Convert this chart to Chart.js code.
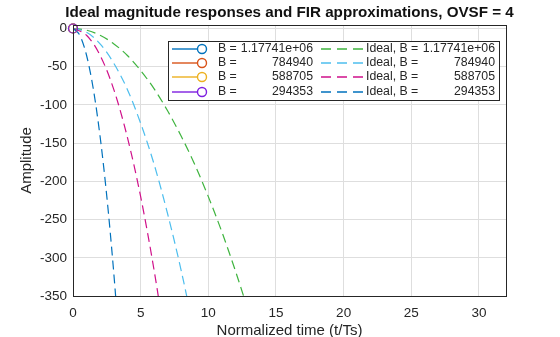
<!DOCTYPE html>
<html>
<head>
<meta charset="utf-8">
<script src="https://cdn.jsdelivr.net/npm/chart.js@4.4.1/dist/chart.umd.min.js"></script>
<style>
  html, body { margin: 0; padding: 0; background: #fff; }
  #wrap { width: 560px; height: 337px; }
</style>
</head>
<body>
<div id="wrap"><canvas id="chart" width="560" height="337"></canvas></div>
<script>
// values
var bandwidths = ["1.17741e+06", "784940", "588705", "294353"];
var firColors = ["#0072bd", "#d95319", "#edb120", "#7e1fe0"];
var idealColors = ["#3fb43f", "#4dbeee", "#d0108a", "#0072bd"];

// FIR approximations only show at the origin
var firTime = [0];
var firAmp = [0];

// ideal responses, amplitude vs normalized time
var idealTime1 = [0, 1, 2, 3, 4, 5, 6, 7, 8, 9, 10, 11, 12, 13];
var idealAmp1 = [0, -2.2, -8.8, -19.8, -35, -55, -79, -108, -141, -178, -220, -266, -317, -372];
var idealTime2 = [0, 1, 2, 3, 4, 5, 6, 7, 8, 9];
var idealAmp2 = [0, -5, -20, -45, -79, -124, -178, -243, -317, -401];
var idealTime3 = [0, 1, 2, 3, 4, 5, 6, 7];
var idealAmp3 = [0, -8.8, -35, -79, -141, -220, -317, -431];
var idealTime4 = [0, 0.5, 1, 1.5, 2, 2.5, 3, 3.5];
var idealAmp4 = [0, -8.8, -35, -79, -141, -220, -317, -431];

var xTicks = [0, 5, 10, 15, 20, 25, 30];
var yTicks = [-350, -300, -250, -200, -150, -100, -50, 0];

var idealTimes = [idealTime1, idealTime2, idealTime3, idealTime4];
var idealAmps = [idealAmp1, idealAmp2, idealAmp3, idealAmp4];

const axisColor = "#262626";
const gridColor = "#dedede";
const fontFam = "'Liberation Sans', Arial, sans-serif";

function toPoints(xs, ys) {
    return xs.map((x, i) => ({ x: x, y: ys[i] }));
}

var datasets = [];
for (let i = 0; i < 4; i++) {
    datasets.push({
        label: "B = " + bandwidths[i],
        data: toPoints(firTime, firAmp),
        borderColor: firColors[i],
        backgroundColor: "rgba(0,0,0,0)",
        borderWidth: 1,
        pointStyle: "circle",
        pointRadius: 4.5,
        pointBorderWidth: 1.2,
        pointBackgroundColor: "rgba(0,0,0,0)",
        clip: false,
        order: 4 - i,
    });
}
for (let i = 0; i < 4; i++) {
    datasets.push({
        label: "Ideal, B = " + bandwidths[i],
        data: toPoints(idealTimes[i], idealAmps[i]),
        borderColor: idealColors[i],
        borderWidth: 1.2,
        borderDash: [9, 5],
        pointRadius: 0,
        cubicInterpolationMode: "monotone",
        order: 10 - i,
    });
}

// box, title and the two-column legend
const decorPlugin = {
    id: "decor",
    afterDatasetsDraw(chart) {
        const ctx = chart.ctx;
        const a = chart.chartArea;
        ctx.save();
        ctx.strokeStyle = axisColor;
        ctx.lineWidth = 1;
        ctx.strokeRect(Math.round(a.left) + 0.5, Math.round(a.top) + 0.5,
            Math.round(a.right - a.left), Math.round(a.bottom - a.top));

        ctx.fillStyle = "#111";
        ctx.font = "bold 15.2px " + fontFam;
        ctx.textAlign = "center";
        ctx.textBaseline = "middle";
        ctx.fillText("Ideal magnitude responses and FIR approximations, OVSF = 4", (a.left + a.right) / 2, 13);

        // legend
        const bx = 168.5, by = 41.5, bw = 331, bh = 59;
        ctx.fillStyle = "#fff";
        ctx.fillRect(bx, by, bw, bh);
        ctx.strokeStyle = axisColor;
        ctx.lineWidth = 1;
        ctx.strokeRect(bx, by, bw, bh);
        ctx.font = "12.3px " + fontFam;
        ctx.textBaseline = "middle";
        const rows = [48.7, 63, 77.3, 91.5];
        for (let i = 0; i < 4; i++) {
            const y = Math.round(rows[i]);
            // FIR entry
            ctx.strokeStyle = firColors[i];
            ctx.lineWidth = 1.4;
            ctx.setLineDash([]);
            ctx.beginPath();
            ctx.moveTo(172, y);
            ctx.lineTo(198, y);
            ctx.stroke();
            ctx.beginPath();
            ctx.arc(202, y, 4.5, 0, Math.PI * 2);
            ctx.stroke();
            ctx.fillStyle = axisColor;
            ctx.textAlign = "left";
            ctx.fillText("B =", 218, y);
            ctx.textAlign = "right";
            ctx.fillText(bandwidths[i], 313, y);
            // ideal entry
            ctx.strokeStyle = idealColors[i];
            ctx.setLineDash([10, 6]);
            ctx.beginPath();
            ctx.moveTo(321, y);
            ctx.lineTo(364, y);
            ctx.stroke();
            ctx.setLineDash([]);
            ctx.textAlign = "left";
            ctx.fillText("Ideal, B =", 366, y);
            ctx.textAlign = "right";
            ctx.fillText(bandwidths[i], 495, y);
        }
        ctx.restore();
    },
};

new Chart("chart", {
    type: "line",
    data: { datasets: datasets },
    options: {
        responsive: false,
        animation: false,
        layout: { padding: { top: 25, right: 54, left: 0, bottom: 0 } },
        plugins: {
            legend: { display: false },
            title: { display: false },
            tooltip: { enabled: false },
        },
        scales: {
            x: {
                type: "linear",
                position: "bottom",
                min: 0,
                max: 32,
                afterBuildTicks: (s) => { s.ticks = xTicks.map((v) => ({ value: v })); },
                afterFit: (s) => { s.height = 41; },
                ticks: { color: axisColor, font: { family: fontFam, size: 13.5 }, padding: 9, maxRotation: 0 },
                grid: { color: gridColor, drawTicks: false },
                border: { display: false },
                title: {
                    display: true,
                    text: "Normalized time (t/Ts)",
                    color: axisColor,
                    font: { family: fontFam, size: 15 },
                    padding: { top: 0, bottom: -3 },
                },
            },
            y: {
                type: "linear",
                min: -350,
                max: 4.6,
                afterBuildTicks: (s) => { s.ticks = yTicks.map((v) => ({ value: v })); },
                afterFit: (s) => { s.width = 73; },
                ticks: { color: axisColor, font: { family: fontFam, size: 13.5 }, padding: 6 },
                grid: { color: gridColor, drawTicks: false },
                border: { display: false },
                title: {
                    display: true,
                    text: "Amplitude",
                    color: axisColor,
                    font: { family: fontFam, size: 15 },
                    padding: { top: 18, bottom: 0 },
                },
            },
        },
    },
    plugins: [decorPlugin],
});
</script>
</body>
</html>
